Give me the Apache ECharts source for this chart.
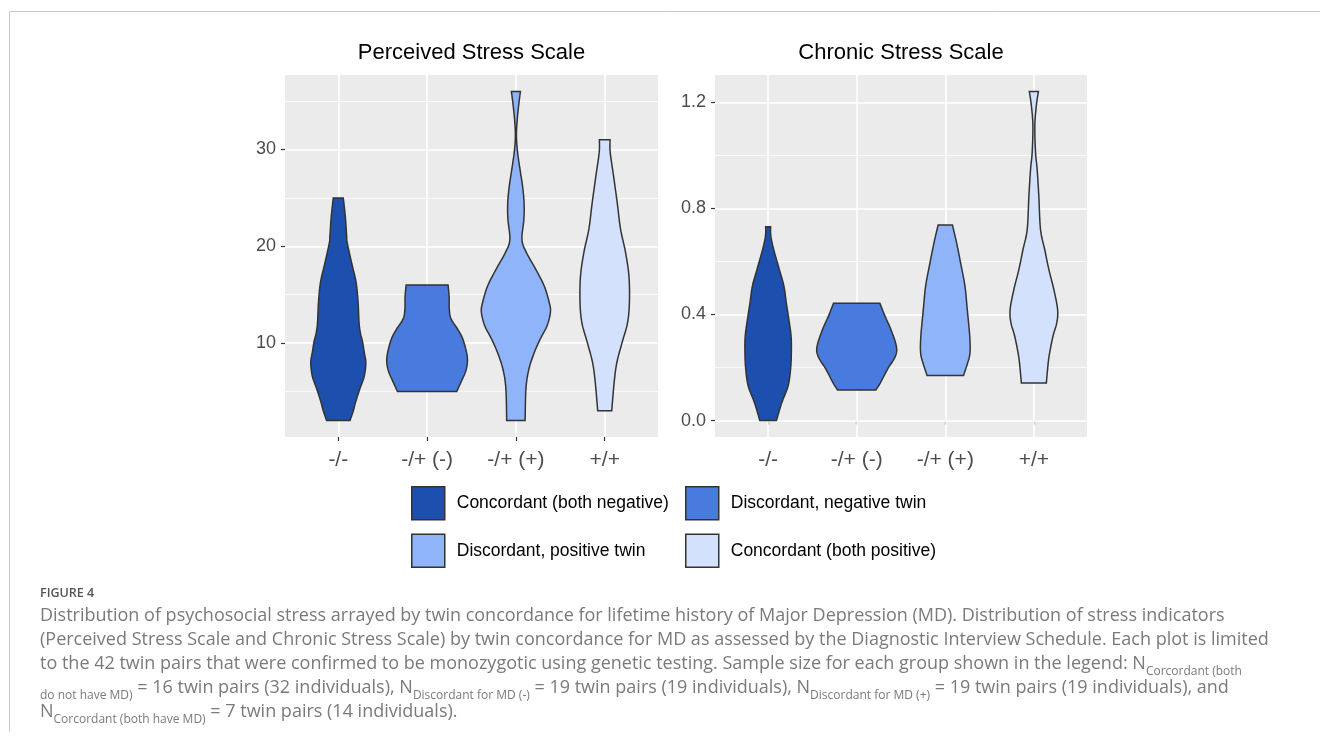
<!DOCTYPE html>
<html><head><meta charset="utf-8">
<script src="https://cdn.jsdelivr.net/npm/echarts@6/dist/echarts.min.js"></script>
<style>html,body{margin:0;padding:0;background:#fff}#c{width:1320px;height:745px}</style>
</head><body><div id="c"></div>
<script>
// ---------- data ----------
const categories = ['-/-', '-/+ (-)', '-/+ (+)', '+/+'];
const groupNames = ['Concordant (both negative)', 'Discordant, negative twin', 'Discordant, positive twin', 'Concordant (both positive)'];
const panelTitles = ['Perceived Stress Scale', 'Chronic Stress Scale'];

const pssTicks = [10, 20, 30];
const pssMinorTicks = [5, 15, 25, 35];
const cssTicks = [0.0, 0.4, 0.8, 1.2];
const cssMinorTicks = [0.2, 0.6, 1.0];

// Violin outlines: stress level and half-width (in category widths)
const pssNegNegLevels = [2, 3, 3.9, 5.3, 6.6, 8, 9, 10.1, 11, 12.1, 14.2, 16.3, 18.3, 20.4, 21.1, 23.1, 25];
const pssNegNegWidths = [0.132, 0.169, 0.195, 0.244, 0.293, 0.31, 0.293, 0.274, 0.25, 0.234, 0.223, 0.2, 0.15, 0.10, 0.094, 0.079, 0.056];
const pssDiscNegLevels = [5, 6, 7, 8, 9, 10.4, 11.4, 12.5, 13.5, 14.8, 16];
const pssDiscNegWidths = [0.334, 0.383, 0.431, 0.454, 0.445, 0.403, 0.347, 0.27, 0.25, 0.248, 0.236];
const pssDiscPosLevels = [2, 5.3, 7.3, 9, 10.4, 11.8, 13.2, 14.2, 15.9, 17.6, 19.4, 20.7, 22.8, 24.5, 26.2, 27.9, 29.7, 31.4, 33.1, 34.8, 36];
const pssDiscPosWidths = [0.104, 0.113, 0.146, 0.206, 0.273, 0.351, 0.389, 0.375, 0.319, 0.225, 0.116, 0.068, 0.09, 0.092, 0.075, 0.047, 0.019, 0.006, 0.015, 0.034, 0.051];
const pssConcPosLevels = [3, 6, 8, 10.1, 12.1, 14.2, 16.9, 19.4, 21.8, 24.5, 27.3, 29.7, 31];
const pssConcPosWidths = [0.079, 0.107, 0.137, 0.197, 0.257, 0.278, 0.273, 0.234, 0.178, 0.141, 0.099, 0.062, 0.06];

const cssNegNegLevels = [0, 0.067, 0.13, 0.193, 0.256, 0.318, 0.381, 0.444, 0.507, 0.57, 0.646, 0.696, 0.731];
const cssNegNegWidths = [0.094, 0.154, 0.225, 0.253, 0.262, 0.259, 0.234, 0.205, 0.178, 0.126, 0.062, 0.03, 0.028];
const cssDiscNegLevels = [0.115, 0.142, 0.193, 0.243, 0.281, 0.344, 0.394, 0.442];
const cssDiscNegWidths = [0.216, 0.267, 0.347, 0.437, 0.447, 0.385, 0.319, 0.262];
const cssDiscPosLevels = [0.17, 0.218, 0.256, 0.318, 0.419, 0.507, 0.596, 0.671, 0.737];
const cssDiscPosWidths = [0.206, 0.253, 0.279, 0.276, 0.248, 0.222, 0.172, 0.127, 0.081];
const cssConcPosLevels = [0.142, 0.193, 0.243, 0.318, 0.369, 0.419, 0.495, 0.57, 0.646, 0.721, 0.847, 0.948, 1.011, 1.112, 1.187, 1.241];
const cssConcPosWidths = [0.141, 0.155, 0.172, 0.216, 0.259, 0.268, 0.225, 0.169, 0.122, 0.075, 0.056, 0.037, 0.019, 0.011, 0.028, 0.051];

// ---------- styling ----------
const groupColors = ['#1C4FAE', '#487BDD', '#8FB4F9', '#D4E1FC'];
const FONT = '"Liberation Sans", Arial, sans-serif';
const CAP_FONT = '"Open Sans", sans-serif';

const panels = [
  { levels: [pssNegNegLevels, pssDiscNegLevels, pssDiscPosLevels, pssConcPosLevels],
    widths: [pssNegNegWidths, pssDiscNegWidths, pssDiscPosWidths, pssConcPosWidths],
    ticks: pssTicks, minor: pssMinorTicks, fmt: v => String(v) },
  { levels: [cssNegNegLevels, cssDiscNegLevels, cssDiscPosLevels, cssConcPosLevels],
    widths: [cssNegNegWidths, cssDiscNegWidths, cssDiscPosWidths, cssConcPosWidths],
    ticks: cssTicks, minor: cssMinorTicks, fmt: v => v.toFixed(1) }
];

function extentOf(panel) {
  let lo = Infinity, hi = -Infinity;
  panel.levels.forEach(a => a.forEach(v => { lo = Math.min(lo, v); hi = Math.max(hi, v); }));
  const pad = (hi - lo) * 0.05;
  return [lo - pad, hi + pad];
}

function catmull(pts, n) {
  const out = [];
  for (let i = 0; i < pts.length - 1; i++) {
    const p0 = pts[Math.max(i - 1, 0)], p1 = pts[i], p2 = pts[i + 1], p3 = pts[Math.min(i + 2, pts.length - 1)];
    for (let k = 0; k < n; k++) {
      const t = k / n, t2 = t * t, t3 = t2 * t;
      const f = j => 0.5 * (2 * p1[j] + (-p0[j] + p2[j]) * t + (2 * p0[j] - 5 * p1[j] + 4 * p2[j] - p3[j]) * t2 + (-p0[j] + 3 * p1[j] - 3 * p2[j] + p3[j]) * t3);
      out.push([f(0), f(1)]);
    }
  }
  out.push(pts[pts.length - 1]);
  return out;
}

function violinRenderer(levels, widths, color) {
  return function (params, api) {
    const cx = api.value(0);
    const unit = api.size([1, 0])[0];
    const left = [], right = [];
    for (let i = 0; i < levels.length; i++) {
      const p = api.coord([cx, levels[i]]);
      left.push([p[0] - widths[i] * unit, p[1]]);
      right.push([p[0] + widths[i] * unit, p[1]]);
    }
    const pts = catmull(left, 8).concat(catmull(right, 8).reverse());
    return { type: 'polygon', shape: { points: pts },
      style: { fill: color, stroke: '#333333', lineWidth: 1.5 } };
  };
}

const grids = [
  { left: 285, top: 75, width: 373, height: 362 },
  { left: 715, top: 75, width: 372, height: 362 }
];

const option = {
  animation: false,
  backgroundColor: '#ffffff',
  title: panelTitles.map((t, i) => ({
    text: t, left: grids[i].left + grids[i].width / 2, top: 42, textAlign: 'center', padding: 0,
    textStyle: { fontFamily: FONT, fontSize: 22, fontWeight: 'normal', color: '#000' }
  })),
  grid: grids.map(g => Object.assign({ show: true, backgroundColor: '#EBEBEB', borderWidth: 0 }, g)),
  xAxis: panels.map((p, i) => ({
    type: 'value', gridIndex: i, min: 0.4, max: 4.6,
    splitLine: { show: false }, axisLine: { show: false },
    axisTick: { show: true, customValues: [1, 2, 3, 4], length: 4, lineStyle: { color: '#333', width: 1.2 } },
    axisLabel: { customValues: [1, 2, 3, 4], formatter: v => categories[Math.round(v) - 1],
      fontFamily: FONT, fontSize: 21, color: '#4D4D4D', margin: 13 }
  })),
  yAxis: panels.map((p, i) => {
    const ext = extentOf(p);
    return {
      type: 'value', gridIndex: i, min: ext[0], max: ext[1],
      splitLine: { show: false }, axisLine: { show: false },
      axisTick: { show: true, customValues: p.ticks, length: 4, lineStyle: { color: '#333', width: 1.2 } },
      axisLabel: { customValues: p.ticks, formatter: p.fmt, fontFamily: FONT, fontSize: 18, color: '#4D4D4D', margin: 9 }
    };
  }),
  legend: [0, 1].map(c => ({
    orient: 'vertical', left: c === 0 ? 411 : 685, top: 486, padding: 0,
    itemWidth: 33, itemHeight: 33, itemGap: 13, icon: 'rect', selectedMode: false,
    data: [groupNames[c], groupNames[c + 2]].map((n) => ({ name: n,
      itemStyle: { color: groupColors[groupNames.indexOf(n)], borderColor: '#333', borderWidth: 1.5 } })),
    textStyle: { fontFamily: FONT, fontSize: 17.5, color: '#000', padding: [0, 0, 0, 7] }
  })),
  series: [],
  graphic: []
};

panels.forEach((p, i) => {
  const lines = [];
  p.minor.forEach(v => lines.push({ yAxis: v, lineStyle: { width: 0.8 } }));
  p.ticks.forEach(v => lines.push({ yAxis: v, lineStyle: { width: 1.6 } }));
  [1, 2, 3, 4].forEach(v => lines.push({ xAxis: v, lineStyle: { width: 1.6 } }));
  option.series.push({
    type: 'line', name: 'grid' + i, xAxisIndex: i, yAxisIndex: i, data: [], z: 1, silent: true,
    markLine: { silent: true, z: 1, symbol: 'none', label: { show: false }, emphasis: { disabled: true },
      lineStyle: { color: '#ffffff', type: 'solid' }, data: lines }
  });
  for (let g = 0; g < 4; g++) {
    option.series.push({
      type: 'custom', name: groupNames[g], xAxisIndex: i, yAxisIndex: i, z: 10,
      itemStyle: { color: groupColors[g] },
      encode: { x: 0, y: 1 },
      data: [[g + 1, p.levels[g][0]]],
      renderItem: violinRenderer(p.levels[g], p.widths[g], groupColors[g])
    });
  }
});

// ---------- caption & frame ----------
const CAP_COLOR = '#7a7a7a';
const capRich = {
  m: { fontFamily: CAP_FONT, fontSize: 18, fill: CAP_COLOR, lineHeight: 22, padding: [0, 0, 5, 0], verticalAlign: 'bottom' },
  s: { fontFamily: CAP_FONT, fontSize: 12, fill: CAP_COLOR, lineHeight: 16, verticalAlign: 'bottom' }
};
const captionLines = [
  '{m|Distribution of psychosocial stress arrayed by twin concordance for lifetime history of Major Depression (MD). Distribution of stress indicators}',
  '{m|(Perceived Stress Scale and Chronic Stress Scale) by twin concordance for MD as assessed by the Diagnostic Interview Schedule. Each plot is limited}',
  '{m|to the 42 twin pairs that were confirmed to be monozygotic using genetic testing. Sample size for each group shown in the legend: N}{s|Corcordant (both}',
  '{s|do not have MD)}{m| = 16 twin pairs (32 individuals), N}{s|Discordant for MD (-)}{m| = 19 twin pairs (19 individuals), N}{s|Discordant for MD (+)}{m| = 19 twin pairs (19 individuals), and}',
  '{m|N}{s|Corcordant (both have MD)}{m| = 7 twin pairs (14 individuals).}'
];
option.graphic.push(
  { type: 'line', shape: { x1: 9.5, y1: 11.5, x2: 1320, y2: 11.5 }, style: { stroke: '#c8c8c8', lineWidth: 1 }, silent: true },
  { type: 'line', shape: { x1: 9.5, y1: 11.5, x2: 9.5, y2: 732 }, style: { stroke: '#c8c8c8', lineWidth: 1 }, silent: true },
  { type: 'text', x: 40, y: 593, style: { text: 'FIGURE 4', fontFamily: CAP_FONT, fontSize: 12.5, fontWeight: 600, fill: '#555', verticalAlign: 'middle' }, silent: true }
);
captionLines.forEach((t, k) => {
  option.graphic.push({ type: 'text', x: 40, y: 608 + k * 24,
    style: { text: t, rich: capRich, fill: CAP_COLOR, verticalAlign: 'top' }, silent: true });
});

const chart = echarts.init(document.getElementById('c'), null, { renderer: 'canvas' });
chart.setOption(option);
</script></body></html>
